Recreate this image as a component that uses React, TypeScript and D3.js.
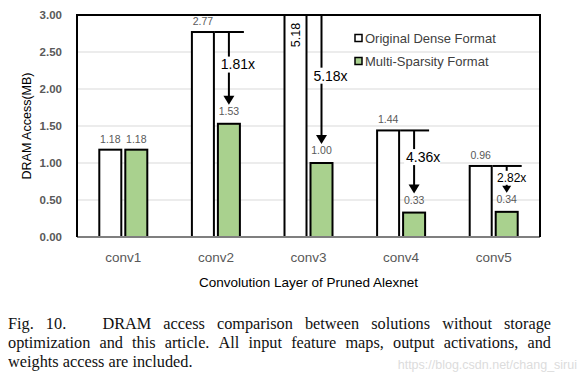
import React, {FC, useEffect, useRef} from 'react';
import * as d3 from 'd3';

const layers = ['conv1', 'conv2', 'conv3', 'conv4', 'conv5'];
const denseValues = [1.18, 2.77, 5.18, 1.44, 0.96];
const sparseValues = [1.18, 1.53, 1.0, 0.33, 0.34];
const yTicks = [0, 0.5, 1, 1.5, 2, 2.5, 3];
// reduction arrows: layer, label, label position (in MB)
const arrowLayers = ['conv2', 'conv3', 'conv4', 'conv5'];
const arrowLabels = ['1.81x', '5.18x', '4.36x', '2.82x'];
const arrowLabelAt = [2.33, 2.18, 1.08, 0.8];
const legendLabels = ['Original Dense Format', 'Multi-Sparsity Format'];
const captionLines = [
  'Fig. 10.|DRAM access comparison between solutions without storage',
  'optimization and this article. All input feature maps, output activations, and',
  'weights access are included.',
];

const GREEN = '#a9d18e';
const SANS = '"Liberation Sans", Arial, sans-serif';

const Chart: FC = () => {
  const ref = useRef<SVGSVGElement>(null);

  useEffect(() => {
    const svg = d3.select(ref.current);
    svg.selectAll('*').remove();

    const left = 77, right = 540, top = 15, bottom = 237;

    const x = d3.scaleBand().domain(layers).range([left, right]);
    const y = d3.scaleLinear().domain([0, 3]).range([bottom, top]);
    const barW = 22, gap = 4;

    svg
      .append('defs')
      .append('clipPath')
      .attr('id', 'plot-clip')
      .append('rect')
      .attr('x', left)
      .attr('y', top)
      .attr('width', right - left)
      .attr('height', bottom - top);

    // grid
    svg
      .append('g')
      .selectAll('line')
      .data(yTicks.filter(t => t > 0 && t < 3))
      .enter()
      .append('line')
      .attr('x1', left)
      .attr('x2', right)
      .attr('y1', d => y(d))
      .attr('y2', d => y(d))
      .attr('stroke', '#d9d9d9')
      .attr('stroke-width', 1);

    // y tick labels
    svg
      .append('g')
      .selectAll('text')
      .data(yTicks)
      .enter()
      .append('text')
      .attr('x', 62)
      .attr('y', d => y(d))
      .attr('dy', '0.35em')
      .attr('text-anchor', 'end')
      .attr('font-family', SANS)
      .attr('font-size', 11.5)
      .attr('font-weight', 'bold')
      .attr('fill', '#595959')
      .text(d => d.toFixed(2));

    const bars = svg.append('g').attr('clip-path', 'url(#plot-clip)');
    const cx = (l: string) => (x(l) as number) + x.bandwidth() / 2;

    bars
      .selectAll('rect.dense')
      .data(layers)
      .enter()
      .append('rect')
      .attr('class', 'dense')
      .attr('x', d => cx(d) - gap / 2 - barW)
      .attr('y', (d, i) => y(denseValues[i]))
      .attr('width', barW)
      .attr('height', (d, i) => bottom - y(denseValues[i]))
      .attr('fill', 'white')
      .attr('stroke', 'black')
      .attr('stroke-width', 2);

    bars
      .selectAll('rect.sparse')
      .data(layers)
      .enter()
      .append('rect')
      .attr('class', 'sparse')
      .attr('x', d => cx(d) + gap / 2)
      .attr('y', (d, i) => y(sparseValues[i]))
      .attr('width', barW)
      .attr('height', (d, i) => bottom - y(sparseValues[i]))
      .attr('fill', GREEN)
      .attr('stroke', 'black')
      .attr('stroke-width', 2);

    // value labels
    const labels = svg
      .append('g')
      .attr('font-family', SANS)
      .attr('font-size', 10.5)
      .attr('fill', '#595959')
      .attr('text-anchor', 'middle');

    layers.forEach((l, i) => {
      if (denseValues[i] <= 3) {
        labels
          .append('text')
          .attr('x', cx(l) - gap / 2 - barW / 2)
          .attr('y', y(denseValues[i]) - 7)
          .text(denseValues[i].toFixed(2));
      }
      labels
        .append('text')
        .attr('x', cx(l) + gap / 2 + barW / 2)
        .attr('y', y(sparseValues[i]) - 7 - (arrowLayers.includes(l) ? 2 : 0))
        .text(sparseValues[i].toFixed(2));
    });

    // clipped bar label (rotated)
    const big = denseValues.findIndex(v => v > 3);
    svg
      .append('text')
      .attr(
        'transform',
        `translate(${cx(layers[big]) - gap / 2 - barW / 2 + 4},${top + 20}) rotate(-90)`
      )
      .attr('text-anchor', 'middle')
      .attr('font-family', SANS)
      .attr('font-size', 12.5)
      .attr('fill', 'black')
      .text(denseValues[big].toFixed(2));

    // reduction arrows
    const arrows = svg.append('g');
    arrowLayers.forEach((l, k) => {
      const i = layers.indexOf(l);
      const ax = cx(l) + gap / 2 + barW / 2;
      const yTop = Math.max(y(denseValues[i]), top);
      const tip = y(sparseValues[i]) - 19;
      const small = l === 'conv5';
      if (denseValues[i] <= 3) {
        arrows
          .append('line')
          .attr('x1', cx(l) - gap / 2 + 1)
          .attr('x2', cx(l) + gap / 2 + barW + 4)
          .attr('y1', yTop)
          .attr('y2', yTop)
          .attr('stroke', 'black')
          .attr('stroke-width', 2);
      }
      const head = small ? 7 : 9;
      arrows
        .append('line')
        .attr('x1', ax)
        .attr('x2', ax)
        .attr('y1', yTop)
        .attr('y2', tip - head + 1)
        .attr('stroke', 'black')
        .attr('stroke-width', 2);
      arrows
        .append('path')
        .attr(
          'd',
          `M${ax - head / 2 - 1},${tip - head}L${ax + head / 2 + 1},${tip - head}L${ax},${tip}Z`
        )
        .attr('fill', 'black');
      const ly = y(arrowLabelAt[k]);
      const fs = small ? 12 : 14;
      const w = small ? 30 : 36;
      arrows
        .append('rect')
        .attr('x', ax + 8 - w / 2)
        .attr('y', ly - fs / 2 - 1)
        .attr('width', w)
        .attr('height', fs + 2)
        .attr('fill', 'white');
      arrows
        .append('text')
        .attr('x', ax + (small ? 5 : 9))
        .attr('y', ly)
        .attr('dy', '0.35em')
        .attr('text-anchor', 'middle')
        .attr('font-family', SANS)
        .attr('font-size', fs)
        .attr('fill', 'black')
        .text(arrowLabels[k]);
    });

    // frame
    svg
      .append('line')
      .attr('x1', left)
      .attr('x2', right)
      .attr('y1', bottom)
      .attr('y2', bottom)
      .attr('stroke', '#7f7f7f')
      .attr('stroke-width', 2);
    svg
      .append('path')
      .attr('d', `M${left},${bottom}V${top}H${right}V${bottom}`)
      .attr('fill', 'none')
      .attr('stroke', 'black')
      .attr('stroke-width', 2);

    // legend
    const legend = svg.append('g');
    legendLabels.forEach((t, i) => {
      const ly = 38 + i * 23;
      legend
        .append('rect')
        .attr('x', 355)
        .attr('y', ly - 3.5)
        .attr('width', 7)
        .attr('height', 7)
        .attr('fill', i === 0 ? 'white' : GREEN)
        .attr('stroke', 'black')
        .attr('stroke-width', 1.5);
      legend
        .append('text')
        .attr('x', 365)
        .attr('y', ly)
        .attr('dy', '0.35em')
        .attr('font-family', SANS)
        .attr('font-size', 13)
        .attr('fill', '#404040')
        .text(t);
    });

    // x tick labels
    svg
      .append('g')
      .selectAll('text')
      .data(layers)
      .enter()
      .append('text')
      .attr('x', d => cx(d))
      .attr('y', 257)
      .attr('dy', '0.35em')
      .attr('text-anchor', 'middle')
      .attr('font-family', SANS)
      .attr('font-size', 13.5)
      .attr('fill', '#595959')
      .text(d => d);

    // axis titles
    svg
      .append('text')
      .attr('x', (left + right) / 2)
      .attr('y', 282)
      .attr('dy', '0.35em')
      .attr('text-anchor', 'middle')
      .attr('font-family', SANS)
      .attr('font-size', 13.5)
      .attr('fill', 'black')
      .text('Convolution Layer of Pruned Alexnet');
    svg
      .append('text')
      .attr('transform', `translate(27,${(top + bottom) / 2}) rotate(-90)`)
      .attr('dy', '0.35em')
      .attr('text-anchor', 'middle')
      .attr('font-family', SANS)
      .attr('font-size', 12.5)
      .attr('fill', 'black')
      .text('DRAM Access(MB)');

    // caption, justified word by word
    const cap = svg
      .append('g')
      .attr('font-family', '"Liberation Serif", "Times New Roman", serif')
      .attr('font-size', 16.3)
      .attr('fill', '#111');
    const capLeft = 8, capRight = 551;
    captionLines.forEach((line, i) => {
      const ly = 329 + i * 19;
      const parts = line.split('|');
      const words: string[] = [];
      const weights: number[] = [];
      parts.forEach((p, pi) => {
        p.split(' ').forEach((w, wi) => {
          if (words.length > 0) weights.push(pi > 0 && wi === 0 ? 3 : 1);
          words.push(w);
        });
      });
      const els = words.map(w =>
        cap.append('text').attr('y', ly).text(w)
      );
      const widths = els.map(e => (e.node() as SVGTextElement).getComputedTextLength());
      const last = i === captionLines.length - 1;
      const total = d3.sum(widths);
      const unit = last ? 4.1 : (capRight - capLeft - total) / d3.sum(weights);
      let px = capLeft;
      els.forEach((e, k) => {
        e.attr('x', px);
        px += widths[k] + (k < weights.length ? weights[k] * unit : 0);
      });
    });
    svg
      .append('text')
      .attr('x', 577)
      .attr('y', 369)
      .attr('text-anchor', 'end')
      .attr('font-family', SANS)
      .attr('font-size', 12.5)
      .attr('fill', '#dcdcdc')
      .text('https://blog.csdn.net/chang_sirui');
  }, []);

  return <svg ref={ref} width={585} height={386} style={{display: 'block'}} />;
};

const App: FC = () => (
  <div style={{margin: -8}}>
    <Chart />
  </div>
);

export default App;
